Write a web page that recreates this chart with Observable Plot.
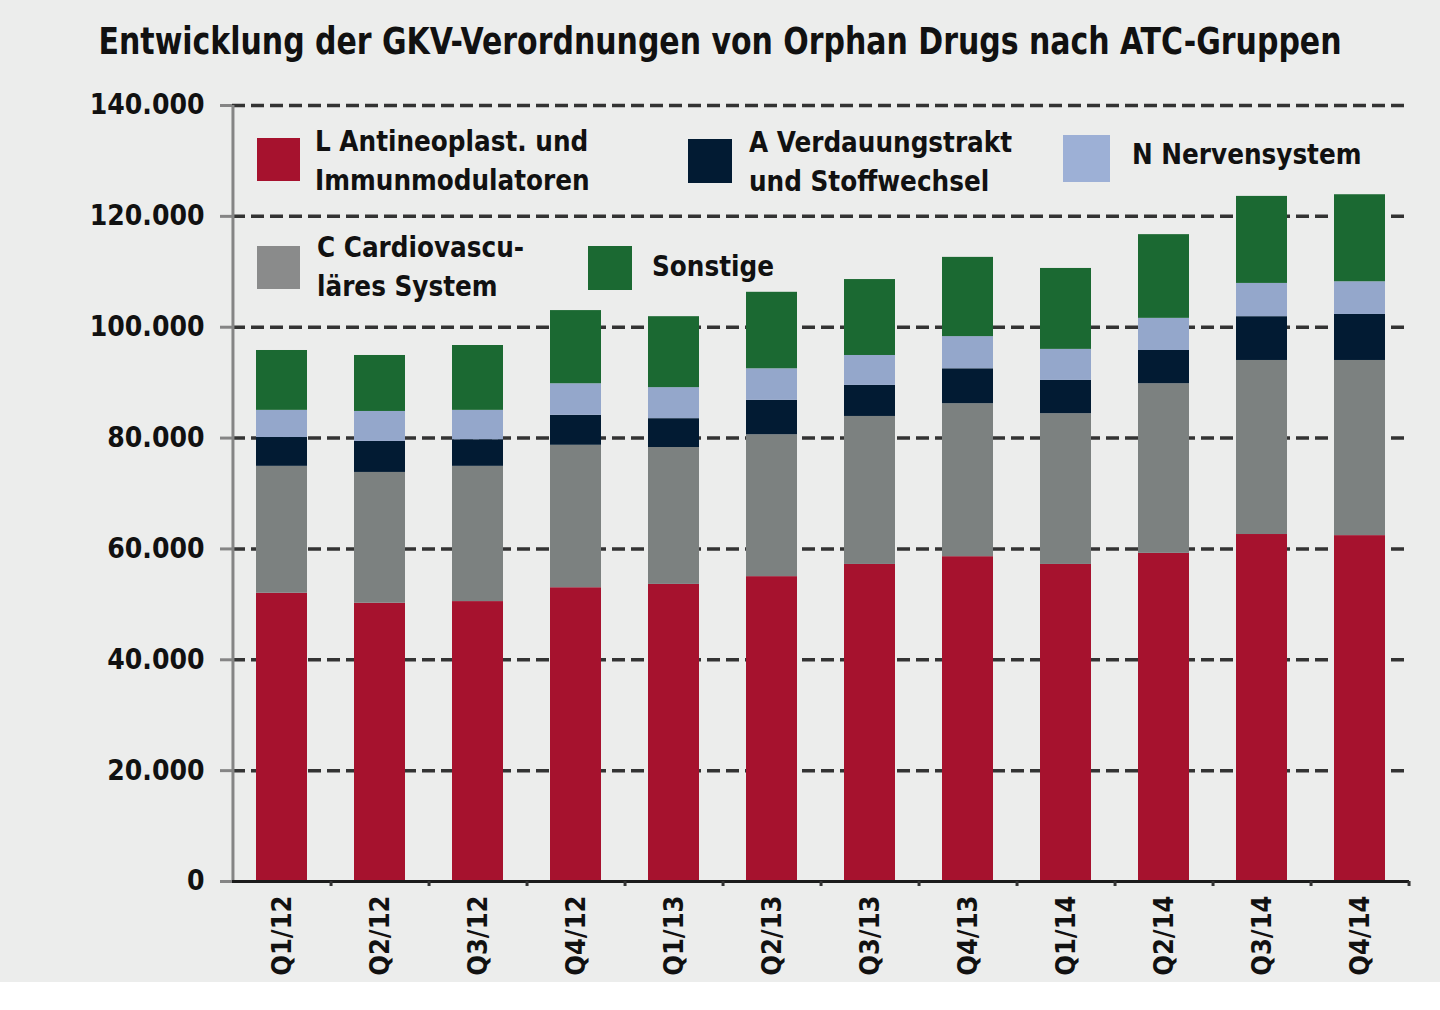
<!DOCTYPE html>
<html>
<head>
<meta charset="utf-8">
<script src="https://cdn.jsdelivr.net/npm/d3@7"></script>
<script src="https://cdn.jsdelivr.net/npm/@observablehq/plot@0.6"></script>
<style>
  html, body { margin: 0; padding: 0; background: #ffffff; }
  #wrap { position: relative; width: 1440px; height: 982px; background: #ecedec; overflow: visible;
          font-family: "DejaVu Sans Condensed", "DejaVu Sans", sans-serif; font-stretch: condensed; font-weight: bold; color: #111; }
  #title { position: absolute; left: 0; top: 19px; width: 1440px; text-align: center; font-size: 37px; line-height: 46px; white-space: nowrap;
           transform: scaleX(0.9); transform-origin: 720px 0; }
  #chart { position: absolute; left: 0; top: 80px; }
  .sw { position: absolute; }
  .lt { position: absolute; font-size: 27.5px; line-height: 39px; white-space: nowrap; }
</style>
</head>
<body>
<div id="wrap">
  <div id="title">Entwicklung der GKV-Verordnungen von Orphan Drugs nach ATC-Gruppen</div>
  <div id="chart"></div>
  <div id="legend"></div>
</div>
<script>
const quarters = ["Q1/12","Q2/12","Q3/12","Q4/12","Q1/13","Q2/13","Q3/13","Q4/13","Q1/14","Q2/14","Q3/14","Q4/14"];
const seriesKeys = ["L","C","A","N","S"];
const seriesLabels = [
  ["L Antineoplast. und","Immunmodulatoren"],
  ["C Cardiovascu-","läres System"],
  ["A Verdauungstrakt","und Stoffwechsel"],
  ["N Nervensystem"],
  ["Sonstige"]
];
const seriesColors = ["#a6122e","#7c8180","#021b33","#94a7cb","#1b6932"];
const legendColors = ["#a6122e","#8a8b8b","#021b33","#9db0d6","#1b6932"];
const valuesL = [52000, 50200, 50500, 53000, 53600, 55000, 57200, 58600, 57200, 59200, 62600, 62400];
const valuesC = [22900, 23600, 24400, 25700, 24700, 25600, 26700, 27600, 27200, 30600, 31400, 31600];
const valuesA = [5200, 5600, 4800, 5400, 5200, 6200, 5600, 6300, 6000, 6000, 7900, 8300];
const valuesN = [4900, 5400, 5300, 5700, 5600, 5700, 5400, 5800, 5600, 5800, 6000, 5900];
const valuesS = [10800, 10100, 11700, 13200, 12800, 13800, 13700, 14300, 14600, 15100, 15700, 15700];
const yTicks = [0, 20000, 40000, 60000, 80000, 100000, 120000, 140000];

const seriesValues = [valuesL, valuesC, valuesA, valuesN, valuesS];
const data = [];
seriesKeys.forEach((k, si) => quarters.forEach((q, qi) => data.push({quarter: q, series: k, value: seriesValues[si][qi]})));

const fmt = d3.formatLocale({decimal: ",", thousands: ".", grouping: [3], currency: ["", "€"]}).format(",d");

const W = 1440, H = 902, mL = 232, mR = 31, mT = 25, mB = 101;
const step = (W - mL - mR) / quarters.length;
const font = '"DejaVu Sans Condensed", "DejaVu Sans", sans-serif';

const chart = Plot.plot({
  width: W, height: H,
  marginLeft: mL, marginRight: mR, marginTop: mT, marginBottom: mB,
  style: {background: "transparent", fontFamily: font, fontWeight: "bold", color: "#111", overflow: "visible"},
  x: {domain: quarters, paddingInner: 0.48, paddingOuter: 0.24, label: null},
  y: {domain: [0, 140000], label: null},
  color: {domain: seriesKeys, range: seriesColors},
  marks: [
    Plot.gridY(yTicks.filter(d => d > 0), {stroke: "#333", strokeOpacity: 1, strokeWidth: 3.5, strokeDasharray: "13,6"}),
    Plot.barY(data, {x: "quarter", y: "value", fill: "series", order: seriesKeys}),
    Plot.ruleX([quarters[0]], {dx: -step / 2, y1: 0, y2: 140000, stroke: "#858585", strokeWidth: 3}),
    Plot.ruleY([0], {stroke: "#1c1c1c", strokeWidth: 3, insetLeft: -11}),
    Plot.axisY({ticks: yTicks, tickFormat: fmt, tickSize: 12, tickPadding: 16, stroke: "#858585", strokeWidth: 3, fontSize: 28, fontWeight: "bold", fill: "#111", label: null}),
    Plot.axisX({tickSize: 0, tickRotate: -90, tickPadding: 14, fontSize: 27, fontWeight: "bold", fill: "#111", label: null}),
    Plot.axisX({text: null, tickSize: 5, dx: step / 2, stroke: "#333", strokeWidth: 3, label: null})
  ]
});
document.getElementById("chart").appendChild(chart);

// Legend overlay
const legendPos = [
  {sx: 257, sy: 138, s: 43, tx: 315, ty: 122},
  {sx: 257, sy: 246, s: 43, tx: 317, ty: 228},
  {sx: 688, sy: 139, s: 44, tx: 749, ty: 123},
  {sx: 1063, sy: 135, s: 47, tx: 1132, ty: 135},
  {sx: 588, sy: 246, s: 44, tx: 652, ty: 247}
];
const leg = document.getElementById("legend");
seriesKeys.forEach((k, i) => {
  const p = legendPos[i];
  const sw = document.createElement("div");
  sw.className = "sw";
  Object.assign(sw.style, {left: p.sx + "px", top: p.sy + "px", width: p.s + "px", height: p.s + "px", background: legendColors[i]});
  leg.appendChild(sw);
  const t = document.createElement("div");
  t.className = "lt";
  Object.assign(t.style, {left: p.tx + "px", top: p.ty + "px"});
  t.innerHTML = seriesLabels[i].join("<br>");
  leg.appendChild(t);
});
</script>
</body>
</html>
